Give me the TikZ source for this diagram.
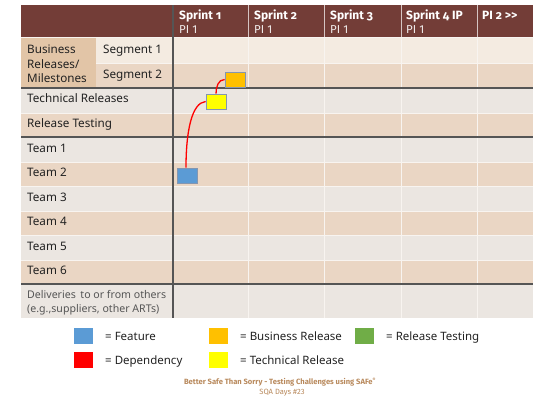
\documentclass[tikz,border=0pt]{standalone}
\usepackage{fontspec}
\setmainfont{Noto Sans}
\newfontfamily\hdrfont[Numbers=OldStyle]{Fira Sans}
\newfontfamily\hdrlight{Fira Sans}
\newfontfamily\footfont{Fira Sans}
\definecolor{hdrbrown}{HTML}{733D37}
\definecolor{rowlight}{HTML}{F4EBE1}
\definecolor{rowtan}{HTML}{EAD6C4}
\definecolor{rowgray}{HTML}{EBE6E1}
\definecolor{celltan}{HTML}{E2C5A7}
\definecolor{gridwhite}{HTML}{F8F4F0}
\definecolor{darkline}{HTML}{555555}
\definecolor{featblue}{HTML}{5B9BD5}
\definecolor{busorange}{HTML}{FFC000}
\definecolor{techyellow}{HTML}{FFFF00}
\definecolor{testgreen}{HTML}{70AD47}
\definecolor{boxedge}{HTML}{8496B0}
\definecolor{foottan}{HTML}{B8895C}
\definecolor{txt}{HTML}{222222}
\begin{document}
\begin{tikzpicture}[x=1pt,y=-1pt,
  lbl/.style={anchor=base west,inner sep=0pt,font=\fontsize{11.7}{14.5}\selectfont,text=txt},
  sprint/.style={anchor=base west,inner sep=0pt,text=white,font=\hdrfont\bfseries\fontsize{12}{14}\selectfont},
  pilbl/.style={anchor=base west,inner sep=0pt,text=white!90!hdrbrown,font=\hdrlight\fontsize{11.5}{14}\selectfont},
  item/.style={draw=boxedge,line width=0.8pt,minimum width=20pt,minimum height=15pt,inner sep=0pt},
  swatch/.style={minimum width=19pt,minimum height=16pt,inner sep=0pt},
  legtxt/.style={anchor=base west,inner sep=0pt,font=\fontsize{11.5}{13}\selectfont,text=txt},
  dep/.style={red,line width=1.3pt},
  darkrule/.style={darkline,line width=1.2pt},
  gridrule/.style={gridwhite,line width=1pt}]
\useasboundingbox (0,0) rectangle (533,400);
% header band
\fill[hdrbrown] (21,5) rectangle (533,37);
% row backgrounds
\fill[rowlight] (96,37) rectangle (533,63);
\fill[rowtan] (96,63) rectangle (533,88);
\fill[celltan] (21,37) rectangle (96,88);
\fill[rowgray] (21,88) rectangle (533,113);
\fill[rowtan] (21,113) rectangle (533,137);
\fill[rowgray] (21,137) rectangle (533,162);
\fill[rowtan] (21,162) rectangle (533,186);
\fill[rowgray] (21,186) rectangle (533,211);
\fill[rowtan] (21,211) rectangle (533,235);
\fill[rowgray] (21,235) rectangle (533,260);
\fill[rowtan] (21,260) rectangle (533,284);
\fill[rowgray] (21,284) rectangle (533,318);
% light grid lines
\foreach \y in {37,162,186,211,235,260} \draw[gridrule] (21,\y) -- (533,\y);
\draw[gridrule] (96,63) -- (533,63);
\draw[gridrule] (21,113) -- (533,113);
\foreach \x in {248,324,401,477} {
  \draw[gridrule] (\x,37) -- (\x,318);
  \draw[white!70!hdrbrown,line width=1pt] (\x,5) -- (\x,37);
}
% heavy rules
\foreach \y in {88,137,284} \draw[darkrule] (21,\y) -- (533,\y);
\draw[darkrule] (173,5) -- (173,318);
% header labels
\node[sprint] (h1) at (179,19.5) {Sprint 1};
\node[pilbl] (p1) at (179,33) {PI 1};
\node[sprint] (h2) at (254,19.5) {Sprint 2};
\node[pilbl] (p2) at (254,33) {PI 1};
\node[sprint] (h3) at (330,19.5) {Sprint 3};
\node[pilbl] (p3) at (330,33) {PI 1};
\node[sprint] (h4) at (406,19.5) {Sprint 4 IP};
\node[pilbl] (p4) at (406,33) {PI 1};
\node[sprint] (h5) at (482,19.5) {PI 2 {>}{>}};
% row labels
\node[lbl] (bus1) at (27,53.5) {Business};
\node[lbl] (bus2) at (27,68) {Releases/};
\node[lbl] (bus3) at (27,82.5) {Milestones};
\node[lbl] (seg1) at (103,53.5) {Segment 1};
\node[lbl] (seg2) at (103,78) {Segment 2};
\node[lbl] (tech) at (27,102.5) {Technical Releases};
\node[lbl] (rtest) at (27,127) {Release Testing};
\node[lbl] (t1) at (27,152) {Team 1};
\node[lbl] (t2) at (27,176) {Team 2};
\node[lbl] (t3) at (27,201) {Team 3};
\node[lbl] (t4) at (27,225.5) {Team 4};
\node[lbl] (t5) at (27,250) {Team 5};
\node[lbl] (t6) at (27,274.5) {Team 6};
\node[lbl,text=darkline,font=\fontsize{10.6}{14}\selectfont] (dv1) at (27,298) {Deliveries\, to or from others};
\node[lbl,text=darkline,font=\fontsize{10.6}{14}\selectfont] (dv2) at (27,312.5) {(e.g.,suppliers, other ARTs)};
% planned items
\node[item,fill=busorange] (br) at (235,79.5) {};
\node[item,fill=techyellow] (tr) at (216,101.5) {};
\node[item,fill=featblue] (feat) at (187,175.5) {};
% dependencies
\draw[dep] (br.west) to[out=180,in=90] (tr.north);
\draw[dep] (tr.west) to[out=185,in=90,out distance=14pt,in distance=36pt] ([xshift=-1pt]feat.north);
% legend
\node[swatch,fill=featblue] (lg1) at (83.5,336) {};
\node[legtxt] (lt1) at (105,340) {= Feature};
\node[swatch,fill=busorange] (lg2) at (218.5,336) {};
\node[legtxt] (lt2) at (240,340) {= Business Release};
\node[swatch,fill=testgreen] (lg3) at (364.5,336) {};
\node[legtxt] (lt3) at (386,340) {= Release Testing};
\node[swatch,fill=red] (lg4) at (83.5,360) {};
\node[legtxt] (lt4) at (105,364) {= Dependency};
\node[swatch,fill=techyellow] (lg5) at (218.5,360) {};
\node[legtxt] (lt5) at (240,364) {= Technical Release};
% footer
\node[inner sep=0pt,text=foottan,font=\footfont\bfseries\fontsize{7.6}{9}\selectfont] (f1) at (280,382) {Better Safe Than Sorry - Testing Challenges using SAFe\textsuperscript{\fontsize{4.5}{4.5}\selectfont ®}};
\node[inner sep=0pt,text=foottan,font=\footfont\fontsize{7.6}{9}\selectfont] (f2) at (282,393) {SQA Days \#23};
\end{tikzpicture}
\end{document}
